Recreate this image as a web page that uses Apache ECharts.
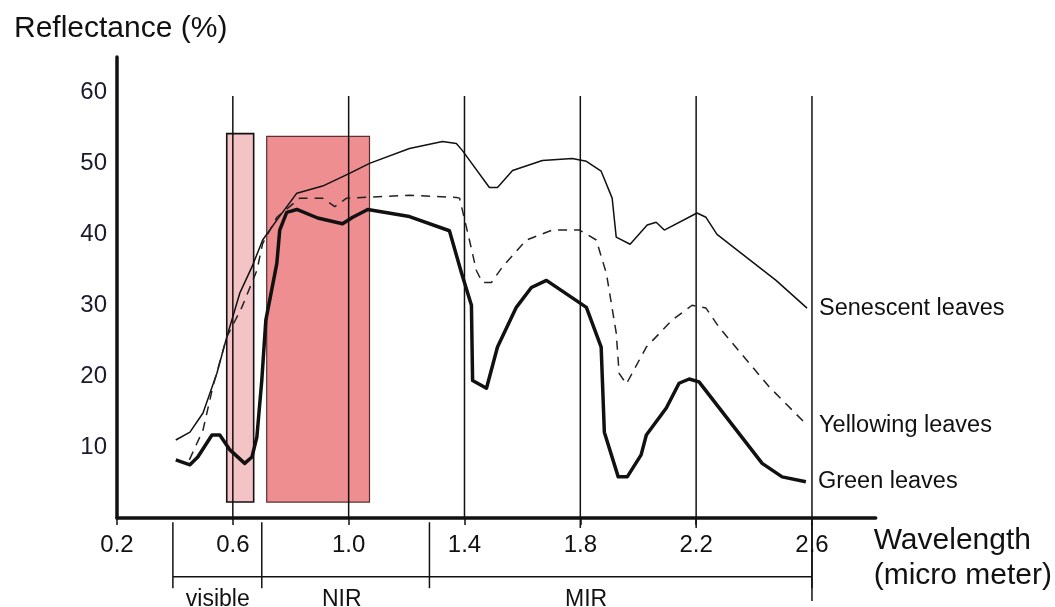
<!DOCTYPE html>
<html>
<head>
<meta charset="utf-8">
<script src="https://cdn.jsdelivr.net/npm/echarts@6/dist/echarts.min.js"></script>
<style>
  html, body { margin: 0; padding: 0; background: #fff; }
  #chart { width: 1055px; height: 607px; }
</style>
</head>
<body>
<div id="chart"></div>
<script>
// wavelength (micro meter), reflectance (%)
var senescent = [
  [0.403, 11.0], [0.452, 12.1], [0.497, 14.8], [0.545, 20.4], [0.579, 25.5],
  [0.624, 31.7], [0.666, 35.4], [0.703, 39.2], [0.752, 42.0], [0.821, 45.8],
  [0.910, 46.8], [1.003, 48.6], [1.072, 50.0], [1.210, 52.1], [1.324, 53.1],
  [1.372, 52.8], [1.393, 51.8], [1.486, 46.6], [1.514, 46.6], [1.566, 49.0],
  [1.669, 50.4], [1.772, 50.7], [1.821, 50.3], [1.872, 48.9], [1.910, 45.1],
  [1.924, 39.6], [1.972, 38.6], [2.031, 41.3], [2.062, 41.7], [2.090, 40.6],
  [2.203, 43.0], [2.234, 42.4], [2.272, 40.0], [2.476, 33.5], [2.583, 29.6]
];
var yellowing = [
  [0.450, 8.2], [0.497, 12.4], [0.531, 18.5], [0.579, 25.5], [0.631, 29.7],
  [0.683, 34.9], [0.703, 38.7], [0.752, 42.4], [0.831, 45.1], [0.910, 45.1],
  [0.952, 43.9], [0.993, 45.1], [1.210, 45.5], [1.372, 45.2], [1.383, 45.1],
  [1.417, 39.2], [1.441, 34.9], [1.462, 33.2], [1.493, 33.2], [1.531, 35.4],
  [1.614, 39.2], [1.703, 40.6], [1.797, 40.6], [1.855, 39.2], [1.890, 34.5],
  [1.924, 26.1], [1.934, 20.4], [1.959, 18.9], [2.028, 24.1], [2.117, 27.9],
  [2.186, 30.0], [2.234, 29.6], [2.279, 26.9], [2.452, 18.5], [2.583, 13.1]
];
var green = [
  [0.403, 8.2], [0.452, 7.5], [0.479, 8.6], [0.528, 11.7], [0.555, 11.7],
  [0.590, 9.6], [0.641, 7.7], [0.666, 8.6], [0.683, 11.4], [0.700, 19.4],
  [0.714, 27.9], [0.752, 35.9], [0.762, 40.6], [0.786, 43.1], [0.821, 43.5],
  [0.893, 42.3], [0.979, 41.5], [1.014, 42.4], [1.066, 43.5], [1.210, 42.5],
  [1.348, 40.5], [1.390, 34.5], [1.424, 30.0], [1.428, 19.4], [1.476, 18.3],
  [1.514, 24.1], [1.579, 29.7], [1.631, 32.5], [1.683, 33.5], [1.821, 29.7],
  [1.872, 24.1], [1.883, 12.1], [1.931, 5.8], [1.962, 5.8], [2.010, 8.9],
  [2.028, 11.7], [2.097, 15.5], [2.141, 19.0], [2.176, 19.6], [2.210, 19.2],
  [2.428, 7.7], [2.497, 5.8], [2.579, 5.1]
];
var seriesNames = ['Senescent leaves', 'Yellowing leaves', 'Green leaves'];

// highlighted bands [x0, y0, x1, y1]
var bands = [[0.579, 2.25, 0.672, 54.2], [0.717, 2.25, 1.072, 53.8]];
var gridX = [0.6, 1.0, 1.4, 1.8, 2.2, 2.6];
var regionBounds = [0.393, 0.7, 1.279, 2.6];
var regionNames = ['visible', 'NIR', 'MIR'];
var regionCenters = [0.548, 0.976, 1.82];

var FONT = 'Liberation Sans, Arial, Helvetica, sans-serif';
var INK = '#111';

var myChart = echarts.init(document.getElementById('chart'));
var option = {
  animation: false,
  title: {
    text: 'Reflectance (%)',
    left: 9, top: 9,
    textStyle: { fontFamily: FONT, fontSize: 30, fontWeight: 'normal', color: INK }
  },
  grid: { left: 117, right: 178, top: 57, bottom: 89 },
  xAxis: {
    type: 'value',
    min: 0.2, max: 2.82, interval: 0.4,
    name: 'Wavelength\n(micro meter)',
    nameLocation: 'end',
    nameGap: -2,
    nameTextStyle: {
      fontFamily: FONT, fontSize: 30, color: INK,
      align: 'left', verticalAlign: 'top', lineHeight: 35, padding: [5, 0, 0, 0]
    },
    axisLine: { onZero: false, lineStyle: { color: INK, width: 3.5 } },
    axisTick: { show: true, length: 7, lineStyle: { color: INK, width: 1.5 } },
    splitLine: { show: false },
    axisLabel: {
      margin: 15, fontFamily: FONT, fontSize: 24, color: INK,
      showMaxLabel: false,
      formatter: function (v) { return v.toFixed(1); }
    }
  },
  yAxis: {
    type: 'value',
    min: 0, max: 65, interval: 10,
    axisLine: { show: true, lineStyle: { color: INK, width: 3.5 } },
    axisTick: { show: false },
    splitLine: { show: false },
    axisLabel: {
      margin: 10, fontFamily: FONT, fontSize: 24, color: '#1a1a2e',
      showMaxLabel: false,
      formatter: function (v) { return (v === 0 || v % 10 !== 0) ? '' : String(v); }
    }
  },
  series: [
    {
      type: 'custom', z: 1, silent: true,
      data: bands,
      encode: { x: [0, 2], y: [1, 3] },
      renderItem: function (params, api) {
        var p0 = api.coord([api.value(0), api.value(3)]);
        var p1 = api.coord([api.value(2), api.value(1)]);
        var light = params.dataIndex === 0;
        return {
          type: 'rect',
          shape: { x: p0[0], y: p0[1], width: p1[0] - p0[0], height: p1[1] - p0[1] },
          style: {
            fill: light ? '#f4c3c5' : '#ee8e90',
            stroke: light ? '#111' : '#5a3030',
            lineWidth: light ? 1.6 : 1.2
          }
        };
      }
    },
    {
      type: 'custom', z: 3, silent: true, clip: false,
      data: gridX.map(function (x) { return [x, 0]; }),
      encode: { x: 0, y: 1 },
      renderItem: function (params, api) {
        var x = api.value(0);
        var bottom = x > 2.5 ? -11.7 : (x > 1.6 ? -1.4 : 0);
        var b = api.coord([x, bottom]);
        var t = api.coord([x, 59.5]);
        return {
          type: 'line',
          shape: { x1: b[0], y1: b[1], x2: t[0], y2: t[1] },
          style: { stroke: INK, lineWidth: 1.5 }
        };
      }
    },
    {
      type: 'custom', z: 3, silent: true, clip: false,
      data: regionBounds.map(function (x) { return [x, 0]; }),
      encode: { x: 0, y: 1 },
      renderItem: function (params, api) {
        var x = api.value(0);
        var a = api.coord([x, -0.6]);
        var b = api.coord([x, -9.9]);
        var children = [{
          type: 'line',
          shape: { x1: a[0], y1: a[1], x2: b[0], y2: b[1] },
          style: { stroke: INK, lineWidth: 1.5 }
        }];
        if (params.dataIndex === 0) {
          var l = api.coord([regionBounds[0], -8.3]);
          var r = api.coord([regionBounds[regionBounds.length - 1], -8.3]);
          children.push({
            type: 'line',
            shape: { x1: l[0], y1: l[1], x2: r[0], y2: r[1] },
            style: { stroke: INK, lineWidth: 1.5 }
          });
        }
        return { type: 'group', children: children };
      }
    },
    {
      type: 'custom', z: 3, silent: true, clip: false,
      data: regionCenters.map(function (x) { return [x, 0]; }),
      encode: { x: 0, y: 1 },
      renderItem: function (params, api) {
        var p = api.coord([api.value(0), -11.5]);
        return {
          type: 'text',
          x: p[0], y: p[1],
          style: {
            text: regionNames[params.dataIndex],
            fontFamily: FONT, fontSize: 23, fill: INK,
            align: 'center', verticalAlign: 'middle'
          }
        };
      }
    },
    {
      name: seriesNames[0], type: 'line', z: 5, data: senescent,
      showSymbol: false, symbol: 'none',
      lineStyle: { color: INK, width: 1.5 },
      endLabel: { show: true, distance: 12, formatter: seriesNames[0], fontFamily: FONT, fontSize: 23.5, color: INK }
    },
    {
      name: seriesNames[1], type: 'line', z: 5, data: yellowing,
      showSymbol: false, symbol: 'none',
      lineStyle: { color: '#222', width: 1.5, type: [9, 7] },
      endLabel: { show: true, distance: 12, formatter: seriesNames[1], fontFamily: FONT, fontSize: 23.5, color: INK }
    },
    {
      name: seriesNames[2], type: 'line', z: 5, data: green,
      showSymbol: false, symbol: 'none',
      lineStyle: { color: INK, width: 3.5, join: 'round' },
      endLabel: { show: true, distance: 12, formatter: seriesNames[2], fontFamily: FONT, fontSize: 23.5, color: INK }
    }
  ]
};
myChart.setOption(option);
</script>
</body>
</html>
